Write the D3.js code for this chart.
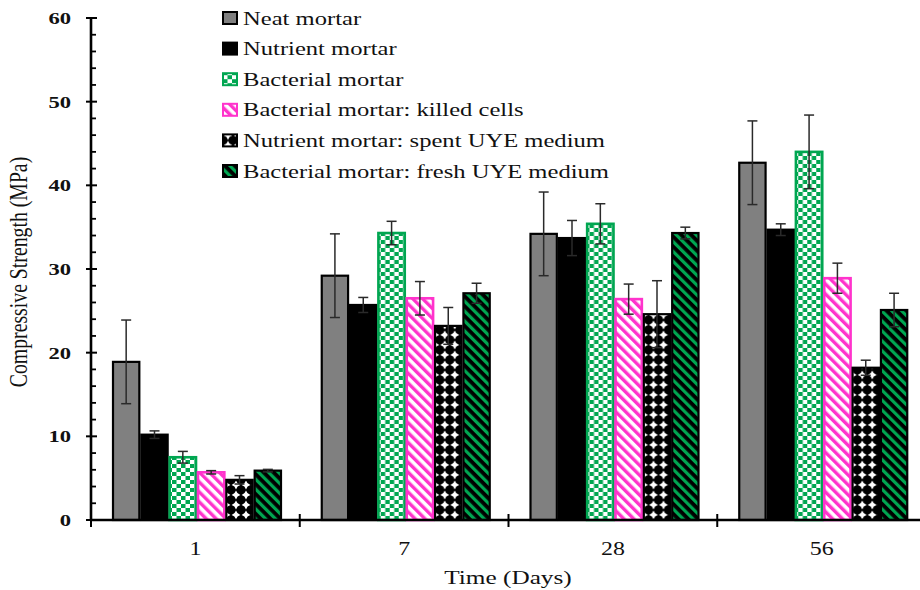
<!DOCTYPE html>
<html>
<head>
<meta charset="utf-8">
<script src="https://cdn.jsdelivr.net/npm/d3@7"></script>
<style>
  html, body { margin: 0; padding: 0; background: #fff; }
  svg { display: block; }
  text { font-family: "Liberation Serif", "Times New Roman", serif; fill: #111; }
</style>
</head>
<body>
<svg id="chart" width="920" height="590"></svg>
<script>
// Compressive strength of mortar mixes over curing time
const days = ["1", "7", "28", "56"];
const seriesNames = [
  "Neat mortar",
  "Nutrient mortar",
  "Bacterial mortar",
  "Bacterial mortar: killed cells",
  "Nutrient mortar: spent UYE medium",
  "Bacterial mortar: fresh UYE medium"
];
// mean strength (MPa) per series, one value per day
const neat       = [18.9, 29.2, 34.2, 42.7];
const nutrient   = [10.2, 25.7, 33.7, 34.7];
const bacterial  = [7.5, 34.3, 35.4, 44.0];
const killed     = [5.7, 26.5, 26.4, 28.9];
const spentUYE   = [4.8, 23.2, 24.6, 18.2];
const freshUYE   = [5.9, 27.1, 34.3, 25.1];
// standard deviations
const neatErr      = [5.0, 5.0, 5.0, 5.0];
const nutrientErr  = [0.45, 0.9, 2.1, 0.7];
const bacterialErr = [0.7, 1.4, 2.4, 4.4];
const killedErr    = [0.2, 2.0, 1.8, 1.8];
const spentErr     = [0.5, 2.2, 4.0, 0.9];
const freshErr     = [0.15, 1.2, 0.7, 2.0];
const yTicks = [0, 10, 20, 30, 40, 50, 60];

const values = [neat, nutrient, bacterial, killed, spentUYE, freshUYE];
const errors = [neatErr, nutrientErr, bacterialErr, killedErr, spentErr, freshErr];

const green = "#00a651", pink = "#ff33cc";
const fills = ["#808080", "#000", "url(#checker)", "url(#pinkStripe)", "url(#dots)", "url(#greenStripe)"];
const strokes = ["#000", "#000", green, pink, "#000", "#000"];
const WIDE = 1.33; // horizontal stretch applied to all lettering

const svg = d3.select("#chart");

// fill patterns
const defs = svg.append("defs");
const checker = defs.append("pattern").attr("id", "checker")
  .attr("patternUnits", "userSpaceOnUse").attr("width", 9).attr("height", 8);
checker.append("rect").attr("width", 9).attr("height", 8).attr("fill", "#fff");
checker.append("rect").attr("width", 4.5).attr("height", 4).attr("fill", green);
checker.append("rect").attr("x", 4.5).attr("y", 4).attr("width", 4.5).attr("height", 4).attr("fill", green);

const pStripe = defs.append("pattern").attr("id", "pinkStripe")
  .attr("patternUnits", "userSpaceOnUse").attr("width", 7).attr("height", 7)
  .attr("patternTransform", "rotate(-45)");
pStripe.append("rect").attr("width", 7).attr("height", 7).attr("fill", "#fff");
pStripe.append("rect").attr("width", 3.4).attr("height", 7).attr("fill", pink);

const gStripe = defs.append("pattern").attr("id", "greenStripe")
  .attr("patternUnits", "userSpaceOnUse").attr("width", 7).attr("height", 7)
  .attr("patternTransform", "rotate(-45)");
gStripe.append("rect").attr("width", 7).attr("height", 7).attr("fill", "#000");
gStripe.append("rect").attr("width", 3.2).attr("height", 7).attr("fill", green);

// black ground with white concave diamonds
const dots = defs.append("pattern").attr("id", "dots")
  .attr("patternUnits", "userSpaceOnUse").attr("width", 10).attr("height", 10);
dots.append("rect").attr("width", 10).attr("height", 10).attr("fill", "#000");
dots.append("path")
  .attr("d", "M5,0.6 Q6,4 9.4,5 Q6,6 5,9.4 Q4,6 0.6,5 Q4,4 5,0.6 Z")
  .attr("fill", "#fff");

// scales
const y = d3.scaleLinear().domain([0, 60]).range([520, 18]);
const x0 = d3.scaleBand().domain(days).range([91, 926]).padding(0);
const x1 = d3.scaleBand().domain(d3.range(seriesNames.length)).range([21, 191]).padding(0);

// bars
const groups = svg.append("g").selectAll("g").data(days).join("g")
  .attr("transform", d => `translate(${x0(d)},0)`);

groups.each(function(day, di) {
  const g = d3.select(this);
  const rows = seriesNames.map((name, si) => ({ si, v: values[si][di], e: errors[si][di] }));
  g.selectAll("rect.bar").data(rows).join("rect")
    .attr("class", "bar")
    .attr("x", d => x1(d.si) + 1)
    .attr("y", d => y(d.v))
    .attr("width", x1.bandwidth() - 2)
    .attr("height", d => y(0) - y(d.v))
    .attr("fill", d => fills[d.si])
    .attr("stroke", d => strokes[d.si])
    .attr("stroke-width", d => (d.si === 2 || d.si === 3) ? 2.6 : 2.2);

  // error bars
  const eb = g.selectAll("g.err").data(rows).join("g").attr("class", "err")
    .attr("stroke", "#2a2a2a").attr("stroke-width", 1.5);
  const cx = d => x1(d.si) + x1.bandwidth() / 2;
  eb.append("line").attr("x1", cx).attr("x2", cx)
    .attr("y1", d => y(d.v - d.e)).attr("y2", d => y(d.v + d.e));
  eb.append("line").attr("x1", d => cx(d) - 5).attr("x2", d => cx(d) + 5)
    .attr("y1", d => y(d.v + d.e)).attr("y2", d => y(d.v + d.e));
  eb.append("line").attr("x1", d => cx(d) - 5).attr("x2", d => cx(d) + 5)
    .attr("y1", d => y(d.v - d.e)).attr("y2", d => y(d.v - d.e));
});

// y axis: minor ticks inside, major ticks crossing
const yAxisG = svg.append("g");
yAxisG.append("line").attr("x1", 91).attr("x2", 91).attr("y1", y(60) - 1).attr("y2", y(0) + 1)
  .attr("stroke", "#000").attr("stroke-width", 2.6);
yAxisG.selectAll("line.minor").data(d3.range(0, 61, 2).filter(v => v % 10 !== 0)).join("line")
  .attr("class", "minor")
  .attr("x1", 91).attr("x2", 96).attr("y1", d => y(d)).attr("y2", d => y(d))
  .attr("stroke", "#000").attr("stroke-width", 1.8);
yAxisG.selectAll("line.major").data(yTicks).join("line")
  .attr("class", "major")
  .attr("x1", 86).attr("x2", 97).attr("y1", d => y(d)).attr("y2", d => y(d))
  .attr("stroke", "#000").attr("stroke-width", 2);
yAxisG.selectAll("text").data(yTicks).join("text")
  .attr("transform", d => `translate(71,${y(d)}) scale(${WIDE},1)`)
  .attr("dy", "0.35em")
  .attr("text-anchor", "end").attr("font-size", 17).attr("font-weight", "bold")
  .attr("fill", "#222")
  .text(d => d);

// x axis with category boundary ticks
const xAxisG = svg.append("g");
xAxisG.append("line").attr("x1", 90).attr("x2", 926).attr("y1", y(0)).attr("y2", y(0))
  .attr("stroke", "#000").attr("stroke-width", 2.6);
const bounds = days.map(d => x0(d)).concat([x0.range()[1]]);
xAxisG.selectAll("line.tick").data(bounds).join("line").attr("class", "tick")
  .attr("x1", d => d).attr("x2", d => d).attr("y1", y(0) - 6).attr("y2", y(0) + 7)
  .attr("stroke", "#000").attr("stroke-width", 2);
xAxisG.selectAll("text").data(days).join("text")
  .attr("transform", d => `translate(${x0(d) + x0.bandwidth() / 2},555) scale(${WIDE},1)`)
  .attr("text-anchor", "middle").attr("font-size", 18)
  .text(d => d);

// axis titles
svg.append("text").attr("transform", `translate(508,584) scale(${WIDE},1)`)
  .attr("text-anchor", "middle").attr("font-size", 19).text("Time (Days)");
svg.append("text").attr("transform", `translate(27,272) rotate(-90) scale(1.04,${WIDE})`)
  .attr("text-anchor", "middle").attr("font-size", 19)
  .text("Compressive Strength (MPa)");

// legend
const legend = svg.append("g").selectAll("g").data(seriesNames).join("g")
  .attr("transform", (d, i) => `translate(223,${18 + i * 30.6})`);
legend.append("rect").attr("x", 0).attr("y", -6).attr("width", 14).attr("height", 12)
  .attr("fill", (d, i) => fills[i])
  .attr("stroke", (d, i) => i === 2 ? green : i === 3 ? pink : "#000")
  .attr("stroke-width", 2);
legend.append("text").attr("transform", `translate(20,6.5) scale(${WIDE},1)`)
  .attr("font-size", 18.5)
  .text(d => d);
</script>
</body>
</html>
